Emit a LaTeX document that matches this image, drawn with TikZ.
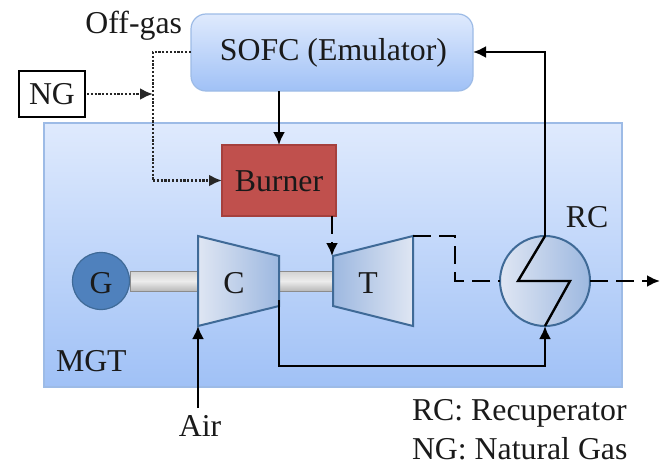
\documentclass[tikz,border=0pt]{standalone}
\usepackage{fontspec}
\setmainfont{Liberation Serif}
\usetikzlibrary{arrows.meta,calc}
\definecolor{blueedge}{HTML}{3F6A97}
\definecolor{paneledge}{HTML}{9DBBE6}
\definecolor{paneltop}{HTML}{DFEAFD}
\definecolor{panelbot}{HTML}{A0C1F6}
\definecolor{partlight}{HTML}{DFE6F3}
\definecolor{partdark}{HTML}{9DB8E0}
\definecolor{burnerfill}{HTML}{C0504D}
\definecolor{burneredge}{HTML}{A5403D}
\definecolor{genfill}{HTML}{4F81BD}
\definecolor{txt}{HTML}{1A1A1A}
\tikzset{
  x=1pt,y=-1pt,
  every node/.style={font=\fontsize{31.8}{34}\selectfont,text=txt,inner sep=0pt,outer sep=0pt},
  panel/.style={rectangle,draw=paneledge,line width=1.2pt,top color=paneltop,bottom color=panelbot,middle color=paneltop!50!panelbot},
  partl/.style={draw=blueedge,line width=2pt,left color=partlight,right color=partdark},
  partr/.style={draw=blueedge,line width=2pt,left color=partdark,right color=partlight},
  shaftbar/.style={draw=gray!90,line width=1pt,top color=gray!35,bottom color=gray!55,middle color=gray!15},
  flow/.style={draw=black,line width=2.4pt,-{Latex[length=13pt,width=12pt]}},
  plainflow/.style={draw=black,line width=2.4pt},
  offgas/.style={draw=black!85,line width=2.8pt,dash pattern=on 2.2pt off 1.6pt},
  hot/.style={draw=black,line width=2.4pt,dash pattern=on 18pt off 8pt},
}
\begin{document}
\begin{tikzpicture}
\useasboundingbox (0,0) rectangle (668,463);
% panels and boxes
\node[panel,minimum width=578pt,minimum height=264pt] (mgt) at (333,255) {};
\node[panel,rounded corners=15pt,minimum width=282pt,minimum height=77pt] (sofc) at (332,52.5) {};
\node (sofclab) at (333.5,53) {SOFC (Emulator)};
\node[rectangle,draw=black,line width=2.4pt,fill=white,minimum width=66pt,minimum height=46pt] (ng) at (52,94) {NG};
\node[rectangle,draw=burneredge,line width=1.4pt,fill=burnerfill,minimum width=114pt,minimum height=71pt] (burner) at (279,180.5) {};
\node[text=black!90] (burnerlab) at (279,181.5) {Burner};
% shafts
\node[rectangle,shaftbar,minimum width=68pt,minimum height=20pt] (s1) at (164,281) {};
\node[rectangle,shaftbar,minimum width=54pt,minimum height=20pt] (s2) at (306,281) {};
% generator
\node[circle,draw=blueedge,line width=1.2pt,fill=genfill,minimum size=57pt] (g) at (101,281) {};
\node (glab) at (101,283) {G};
% compressor
\coordinate (c1) at (198,236);
\coordinate (c2) at (279,256);
\coordinate (c3) at (279,306);
\coordinate (c4) at (198,326);
\path[partl] (c1) -- (c2) -- (c3) -- (c4) -- cycle;
\node (cl) at (234,283) {C};
% turbine
\coordinate (t1) at (333,256);
\coordinate (t2) at (413,236);
\coordinate (t3) at (413,326);
\coordinate (t4) at (333,306);
\path[partr] (t1) -- (t2) -- (t3) -- (t4) -- cycle;
\node (tl) at (368,283) {T};
% recuperator
\node[circle,partl,minimum size=90pt] (rc) at (545,281) {};
\coordinate (z1) at (518,281);
\coordinate (z2) at (570,281);
% free ends
\coordinate (air) at (198,408);
\coordinate (out) at (660,281);
\coordinate (j1) at (153,52);
\coordinate (j2) at (153,94);
\coordinate (j3) at (153,180.5);
\coordinate (k1) at (455,236);
\coordinate (k2) at (455,281);
\coordinate (m1) at (279,366);
\coordinate (m2) at (545,366);
\coordinate (n1) at (545,52);
% labels
\node[anchor=east] (offlab) at (182,26) {Off-gas};
\node (rclab) at (587,217) {RC};
\node[anchor=west] (mgtlab) at (56,361) {MGT};
\node (airlab) at (200,426) {Air};
\node[anchor=west] (l1) at (412,413) {RC: Recuperator};
\node[anchor=west] (l2) at (412,449) {NG: Natural Gas};
% connectors
\draw[flow] (burner.north |- sofc.south) -- (burner.north);
\draw[flow] (rc.north) -- (n1) -- (n1 -| sofc.east);
\draw[plainflow,line join=miter] (rc.north) -- (z1) -- (z2) -- (rc.south);
\draw[flow] (c3) ++(0,-6) -- (m1) -- (m2) -- (rc.south);
\draw[flow] (air) -- (c4);
\draw[offgas] (sofc.west |- j1) -- (j1) -- (j3);
\draw[offgas,-{Latex[length=13pt,width=12pt]}] (j3) -- (burner.west |- j3);
\draw[offgas,-{Latex[length=13pt,width=12pt]}] (ng.east) ++(2,0) -- (j2);
\path (burner.south -| t1) ++(-1,0) coordinate (b1);
\draw[hot,-{Latex[length=13pt,width=12pt]}] (b1) -- (t1 -| b1);
\draw[hot] (t2) -- (k1) -- (k2) -- (rc.west);
\draw[hot,-{Latex[length=13pt,width=12pt]}] (rc.east) -- (out);
\end{tikzpicture}
\end{document}
